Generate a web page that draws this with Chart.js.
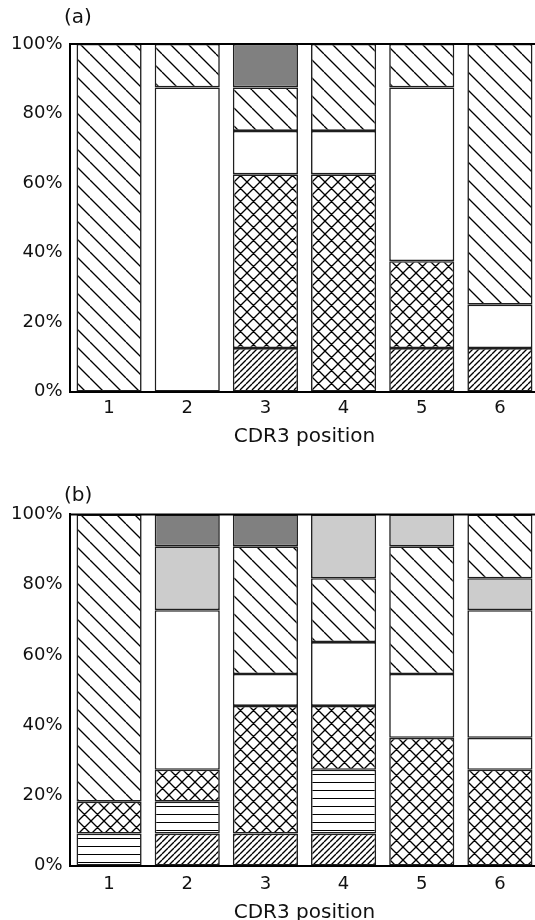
<!DOCTYPE html>
<html>
<head>
<meta charset="utf-8">
<script src="https://cdn.jsdelivr.net/npm/chart.js@4/dist/chart.umd.min.js"></script>
<style>
  html, body { margin: 0; padding: 0; background: #fff; overflow: hidden; width: 535px; height: 920px; }
  canvas { position: absolute; left: 0; }
  #panelA { top: 0; }
  #panelB { top: 470px; }
</style>
</head>
<body>
<canvas id="panelA" width="540" height="460"></canvas>
<canvas id="panelB" width="540" height="460"></canvas>
<script>
// CDR3 positions along the x axis and the percentage ticks on y
const positions = ['1', '2', '3', '4', '5', '6'];
const yTicks = [0, 20, 40, 60, 80, 100];

// Panel (a): percentage of sequences in each residue group, stacked bottom to top
const aFineHatch  = [0, 0, 12.5, 0, 12.5, 12.5];
const aCrossHatch = [0, 0, 50, 62.5, 25, 0];
const aOpen       = [0, 87.5, 12.5, 12.5, 50, 12.5];
const aHatch      = [100, 12.5, 12.5, 25, 12.5, 75];
const aDarkGrey   = [0, 0, 12.5, 0, 0, 0];

// Panel (b)
const bFineHatch  = [0, 9.09, 9.09, 9.09, 0, 0];
const bLined      = [9.09, 9.09, 0, 18.18, 0, 0];
const bCrossHatch = [9.09, 9.09, 36.36, 18.18, 36.36, 27.27];
const bOpen       = [0, 45.45, 9.09, 18.18, 18.18, 9.09];
const bOpenUpper  = [0, 0, 0, 0, 0, 36.36];
const bGreyLower  = [0, 0, 0, 0, 0, 9.09];
const bHatch      = [81.82, 0, 36.36, 18.18, 36.36, 18.19];
const bGrey       = [0, 18.18, 0, 18.19, 9.10, 0];
const bDarkGrey   = [0, 9.10, 9.10, 0, 0, 0];

const FONT = 'DejaVu Sans';

// Build repeating fill textures for the bar segments
function texture(kind) {
  const size = { fine: 6, cross: 13, hatch: 18, lined: 8 }[kind];
  const c = document.createElement('canvas');
  c.width = c.height = size;
  const g = c.getContext('2d');
  g.fillStyle = '#fff';
  g.fillRect(0, 0, size, size);
  g.strokeStyle = '#000';
  g.lineWidth = kind === 'lined' ? 1 : 1.35;
  g.beginPath();
  if (kind === 'lined') {
    g.moveTo(0, 0.5); g.lineTo(size, 0.5);
  }
  if (kind === 'fine' || kind === 'cross') {
    for (let k = -1; k <= 1; k++) { g.moveTo(k * size, size); g.lineTo(k * size + size, 0); }
  }
  if (kind === 'hatch' || kind === 'cross') {
    for (let k = -1; k <= 1; k++) { g.moveTo(k * size, 0); g.lineTo(k * size + size, size); }
  }
  g.stroke();
  return g.createPattern(c, 'repeat');
}

const fills = {
  fine: texture('fine'),
  cross: texture('cross'),
  hatch: texture('hatch'),
  lined: texture('lined'),
  open: '#ffffff',
  grey: '#cccccc',
  dark: '#808080'
};

// Heavy line along the 100% edge of the plot
const topRule = {
  id: 'topRule',
  afterDatasetsDraw(chart) {
    const { ctx, chartArea } = chart;
    ctx.save();
    ctx.strokeStyle = '#000';
    ctx.lineWidth = 2;
    ctx.beginPath();
    ctx.moveTo(chartArea.left - 1, chartArea.top);
    ctx.lineTo(chartArea.right + 2, chartArea.top);
    ctx.stroke();
    ctx.restore();
  }
};

// Panel letter in the top-left corner
const panelLetter = {
  id: 'panelLetter',
  afterDraw(chart, args, opts) {
    const { ctx } = chart;
    ctx.save();
    ctx.fillStyle = '#111';
    ctx.font = '20px "' + FONT + '"';
    ctx.textBaseline = 'middle';
    ctx.textAlign = 'left';
    ctx.fillText(opts.text, 64, opts.y);
    ctx.restore();
  }
};

function drawPanel(id, letter, series, geo) {
  new Chart(document.getElementById(id), {
    type: 'bar',
    data: {
      labels: positions,
      datasets: series.map(([values, fill]) => ({
        data: values,
        backgroundColor: fill,
        borderColor: '#1e1e1e',
        borderWidth: 1.6,
        borderSkipped: false,
        barPercentage: 0.833,
        categoryPercentage: 1
      }))
    },
    options: {
      responsive: false,
      animation: false,
      devicePixelRatio: 1,
      layout: { padding: { top: geo.top, right: 1, left: 0, bottom: 0 } },
      plugins: {
        legend: { display: false },
        tooltip: { enabled: false },
        title: { display: false },
        panelLetter: { text: letter, y: geo.letterY }
      },
      scales: {
        x: {
          stacked: true,
          grid: { display: false, drawTicks: false },
          border: { color: '#000', width: 2 },
          ticks: { padding: geo.tickPad, color: '#111', font: { family: FONT, size: 18 } },
          title: {
            display: true, text: 'CDR3 position', color: '#111',
            font: { family: FONT, size: 20 },
            padding: { top: 0, bottom: geo.titlePad }
          },
          afterFit(scale) { scale.height = geo.xHeight; }
        },
        y: {
          stacked: true,
          min: 0, max: 100,
          grid: { display: false, drawTicks: false },
          border: { color: '#000', width: 2 },
          ticks: {
            padding: 7.5, color: '#111', font: { family: FONT, size: 18 },
            callback: (v) => v + '%'
          },
          afterBuildTicks(scale) { scale.ticks = yTicks.map((v) => ({ value: v })); },
          afterFit(scale) { scale.width = 70; }
        }
      }
    },
    plugins: [topRule, panelLetter]
  });
}

drawPanel('panelA', '(a)', [
  [aFineHatch, fills.fine],
  [aCrossHatch, fills.cross],
  [aOpen, fills.open],
  [aHatch, fills.hatch],
  [aDarkGrey, fills.dark]
], { top: 44, xHeight: 68.5, tickPad: 6.2, titlePad: 11.5, letterY: 18 });

drawPanel('panelB', '(b)', [
  [bFineHatch, fills.fine],
  [bLined, fills.lined],
  [bCrossHatch, fills.cross],
  [bOpen, fills.open],
  [bOpenUpper, fills.open],
  [bGreyLower, fills.grey],
  [bHatch, fills.hatch],
  [bGrey, fills.grey],
  [bDarkGrey, fills.dark]
], { top: 44.4, xHeight: 64.5, tickPad: 7.7, titlePad: 5, letterY: 25.6 });
</script>
</body>
</html>
